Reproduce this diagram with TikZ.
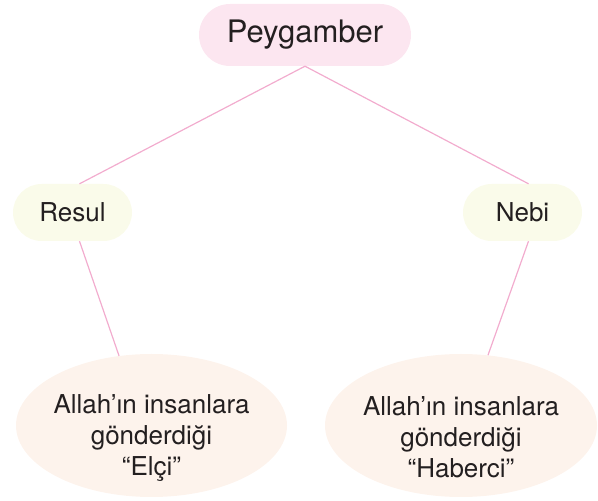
\documentclass[tikz,border=0pt]{standalone}
\usepackage{fontspec}
\setmainfont{TeX Gyre Heros}
\usepackage{xcolor}
\usetikzlibrary{shapes.geometric, shapes.misc, positioning}

\definecolor{linkpink}{RGB}{242,172,206}
\definecolor{pinkfill}{RGB}{252,230,240}
\definecolor{creamfill}{RGB}{250,251,234}
\definecolor{peachfill}{RGB}{253,243,236}
\definecolor{textgray}{RGB}{35,31,32}

\newcommand{\toppad}{\rule{0pt}{43pt}}

\begin{document}
\begin{tikzpicture}[x=1pt, y=1pt]
\tikzstyle{pill} = [rounded rectangle, fill=creamfill, text=textgray, minimum width=119pt, minimum height=57pt, inner sep=0pt, font=\fontsize{26}{31}\selectfont]
\tikzstyle{meaning} = [ellipse, fill=peachfill, text=textgray, minimum width=271pt, minimum height=143pt, inner xsep=-15pt, inner ysep=-25pt, align=center, font=\fontsize{26}{31}\selectfont]
\tikzstyle{link} = [draw=linkpink, line width=1.2pt]

\useasboundingbox (0,0) rectangle (598,501);

\node (peyg) [pill, fill=pinkfill, minimum width=212pt, minimum height=62pt, font=\fontsize{31}{37}\selectfont] at (305,466) {Peygamber};
\node (resul) [pill] at (72.5,288.5) {Resul};
\node (nebi) [pill] at (522.5,288.5) {Nebi};
\node (elci) [meaning] at (151.5,75.5) {\toppad Allah’ın insanlara\\gönderdiği\\“Elçi”};
\node (haberci) [meaning, minimum width=272pt] at (461,75.5) {\toppad Allah’ın insanlara\\gönderdiği\\“Haberci”};

\draw [link] (peyg.south) -- ([xshift=7pt]resul.north);
\draw [link] (peyg.south) -- ([xshift=6pt]nebi.north);
\draw [link] ([xshift=7pt]resul.south) -- (elci.115);
\draw [link] ([xshift=6pt]nebi.south) -- (haberci.69);

\end{tikzpicture}
\end{document}
